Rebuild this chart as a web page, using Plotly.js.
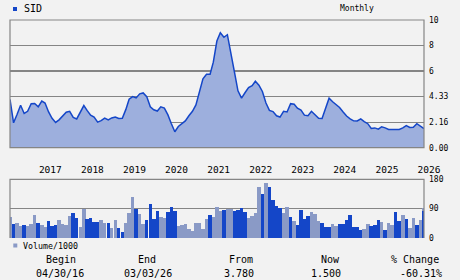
<!DOCTYPE html>
<html>
<head>
<meta charset="utf-8">
<script src="https://cdn.plot.ly/plotly-3.0.1.min.js"></script>
<style>html,body{margin:0;padding:0;background:#f2f2f2;}#chart{width:460px;height:280px;}</style>
</head>
<body>
<div id="chart"></div>
<script>
// ---- data ----
const startYear = 2016, startMonth = 4;   // first monthly close: end of April 2016
const lastDate = '2026-03-03';
const closePrices = [
  3.78, 1.95, 2.60, 3.33, 2.68, 2.85, 3.45, 3.46, 3.20, 3.65, 3.50, 2.80,
  2.30, 1.98, 2.18, 2.45, 2.78, 2.85, 2.37, 2.25, 2.75, 3.30, 2.92, 2.55,
  2.40, 2.00, 2.12, 2.32, 2.18, 2.33, 2.40, 2.29, 2.30, 3.00, 3.80, 4.00,
  3.90, 4.22, 4.29, 4.00, 3.20, 2.97, 2.87, 3.20, 3.10, 2.57, 1.90, 1.25,
  1.66, 1.89, 2.10, 2.50, 2.85, 3.35, 4.30, 5.40, 5.75, 5.75, 6.70, 8.35,
  9.00, 8.65, 8.85, 7.50, 5.90, 4.45, 3.88, 4.30, 4.70, 4.85, 5.20, 4.90,
  4.40, 3.50, 2.92, 2.83, 2.50, 2.40, 2.85, 2.80, 3.45, 3.40, 3.10, 2.94,
  2.55, 2.50, 2.85, 2.58, 2.30, 2.29, 3.10, 3.88, 3.60, 3.37, 3.15, 2.80,
  2.48, 2.26, 2.10, 2.09, 2.26, 2.05, 1.88, 1.50, 1.55, 1.45, 1.64, 1.55,
  1.43, 1.43, 1.43, 1.43, 1.55, 1.73, 1.58, 1.60, 1.88, 1.68, 1.55, 1.50
];
const volumeK = [
  65, 43, 47, 37, 40, 37, 43, 70, 46, 40, 34, 52,
  37, 40, 55, 43, 40, 67, 76, 61, 34, 90, 58, 61,
  49, 49, 55, 46, 46, 31, 55, 31, 19, 46, 76, 127,
  90, 73, 43, 55, 103, 58, 82, 64, 61, 79, 94, 82,
  37, 40, 43, 28, 22, 46, 46, 28, 58, 70, 64, 94,
  82, 86, 88, 90, 84, 86, 91, 80, 62, 68, 76, 157,
  136, 169, 157, 116, 98, 91, 78, 94, 64, 53, 41, 85,
  58, 67, 79, 75, 53, 47, 35, 35, 43, 37, 44, 43,
  55, 70, 35, 35, 24, 29, 43, 37, 39, 55, 49, 26,
  46, 40, 79, 52, 70, 59, 31, 61, 40, 55, 91, 82
];
const volumeUp = [
  0,1,0,0,1,0,0,0,1,0,0,1,
  1,1,0,0,0,0,1,1,0,0,1,1,
  1,1,0,0,1,0,0,1,1,0,0,0,
  1,0,0,1,1,1,1,0,0,1,1,1,
  0,0,0,0,0,0,0,0,0,1,0,0,
  0,1,0,0,1,1,1,1,0,0,0,0,
  1,0,1,1,1,1,0,0,1,0,1,1,
  1,1,0,0,0,1,1,1,0,0,1,1,
  1,1,1,1,1,0,0,1,1,1,0,1,
  0,0,1,1,0,1,0,0,1,0,0,1
];
const priceTicks = [0, 2, 4, 6, 8, 10];
const priceTickText = ['0.00', '2.16', '4.33', '6', '8', '10'];
const volTicks = [0, 90, 180];
const yearTicks = [2017, 2018, 2019, 2020, 2021, 2022, 2023, 2024, 2025, 2026];
const symbol = 'SID';
const period = 'Monthly';
const tableHead = ['Begin', 'End', 'From', 'Now', '% Change'];
const tableVals = ['04/30/16', '03/03/26', '3.780', '1.500', '-60.31%'];

// ---- dates ----
const dates = closePrices.map((_, i) => {
  if (i === closePrices.length - 1) return lastDate;
  const d = new Date(Date.UTC(startYear, startMonth + i, 0));
  return d.toISOString().slice(0, 10);
});

const BLUE = '#1446c8', GREY = '#8a9ac6', FILL = '#9dafdd', GRID = '#858585';
const MONO = 'DejaVu Sans Mono, monospace';
const MONTH_MS = 30.4 * 86400000;

// layout geometry helpers (pixels -> paper)
const L = 10, R = 36, T = 20, B = 42, W = 460, H = 280;
const PW = W - L - R, PH = H - T - B;
const px = x => (x - L) / PW;
const py = y => (H - B - y) / PH;

const priceTrace = {
  x: dates, y: closePrices, type: 'scatter', mode: 'lines',
  fill: 'tozeroy', fillcolor: FILL,
  line: {color: BLUE, width: 1.5}, xaxis: 'x', yaxis: 'y', hoverinfo: 'skip'
};
const volTrace = {
  x: dates, y: volumeK, type: 'bar', width: MONTH_MS,
  marker: {color: volumeUp.map(u => u ? BLUE : GREY), line: {width: 0}},
  xaxis: 'x2', yaxis: 'y2', hoverinfo: 'skip'
};

const annotations = [
  {text: symbol, x: px(22), y: py(9), xanchor: 'left', yanchor: 'middle', font: {size: 10}},
  {text: period, x: px(357), y: py(9), xanchor: 'center', yanchor: 'middle', font: {size: 8}},
  {text: 'Volume/1000', x: px(20.5), y: py(245.5), xanchor: 'left', yanchor: 'middle', font: {size: 8.3}}
];
const headX = [60.5, 146.5, 241, 330, 414.5];
const valX = [59.5, 148, 239, 326, 421];
tableHead.forEach((t, i) => annotations.push({text: t, x: px(headX[i]), y: py(259.5), xanchor: 'center', yanchor: 'middle', font: {size: 10}}));
tableVals.forEach((t, i) => annotations.push({text: t, x: px(valX[i]), y: py(273.5), xanchor: 'center', yanchor: 'middle', font: {size: 10}}));
annotations.forEach(a => { a.xref = 'paper'; a.yref = 'paper'; a.showarrow = false; a.font.family = MONO; a.font.color = '#000'; });

const priceDom = [py(147.7), 1];
const volDom = [0, py(179.3)];

const shapes = [
  {type: 'rect', xref: 'paper', yref: 'paper', x0: 0, x1: 1, y0: priceDom[0], y1: 1, line: {color: GRID, width: 1.2}, fillcolor: 'rgba(0,0,0,0)'},
  {type: 'path', xref: 'paper', yref: 'paper', path: `M 0 0 L 0 ${volDom[1]} L 1 ${volDom[1]} L 1 0`, line: {color: GRID, width: 1.2}},
  {type: 'rect', xref: 'paper', yref: 'paper', x0: px(13), x1: px(17), y0: py(7), y1: py(11), fillcolor: BLUE, line: {width: 0}},
  {type: 'rect', xref: 'paper', yref: 'paper', x0: px(13.3), x1: px(17.3), y0: py(243.5), y1: py(247.5), fillcolor: GREY, line: {width: 0}}
];

const layout = {
  width: W, height: H,
  margin: {l: L, r: R, t: T, b: B, pad: 0},
  paper_bgcolor: '#f2f2f2', plot_bgcolor: '#f2f2f2',
  showlegend: false, bargap: 0,
  font: {family: MONO, color: '#000'},
  xaxis: {
    type: 'date', domain: [0, 1], anchor: 'y', range: [dates[0], lastDate],
    showgrid: false, zeroline: false, showline: false, ticks: '',
    tickvals: yearTicks.map(y => y + '-01-01'), ticktext: yearTicks.map(String),
    tickfont: {family: MONO, size: 9.5, color: '#000'},
    ticklabelshift: 12, ticklabelstandoff: 15
  },
  yaxis: {
    domain: priceDom, anchor: 'x', side: 'right', range: [0, 10],
    tickvals: priceTicks, ticktext: priceTickText,
    showgrid: true, gridcolor: GRID, gridwidth: 1.2, zeroline: false, showline: false, ticks: '',
    tickfont: {family: MONO, size: 8, color: '#000'}, ticklabelstandoff: 4
  },
  xaxis2: {
    type: 'date', domain: [0, 1], anchor: 'y2', matches: 'x', range: [dates[0], lastDate],
    showgrid: false, zeroline: false, showline: false, showticklabels: false, ticks: ''
  },
  yaxis2: {
    domain: volDom, anchor: 'x2', side: 'right', range: [0, 180],
    tickvals: volTicks, ticktext: volTicks.map(String),
    showgrid: true, gridcolor: GRID, gridwidth: 1.2, zeroline: false, showline: false, ticks: '',
    tickfont: {family: MONO, size: 8, color: '#000'}, ticklabelstandoff: 4
  },
  annotations: annotations,
  shapes: shapes
};

Plotly.newPlot('chart', [priceTrace, volTrace], layout, {staticPlot: true, displayModeBar: false});
</script>
</body>
</html>
